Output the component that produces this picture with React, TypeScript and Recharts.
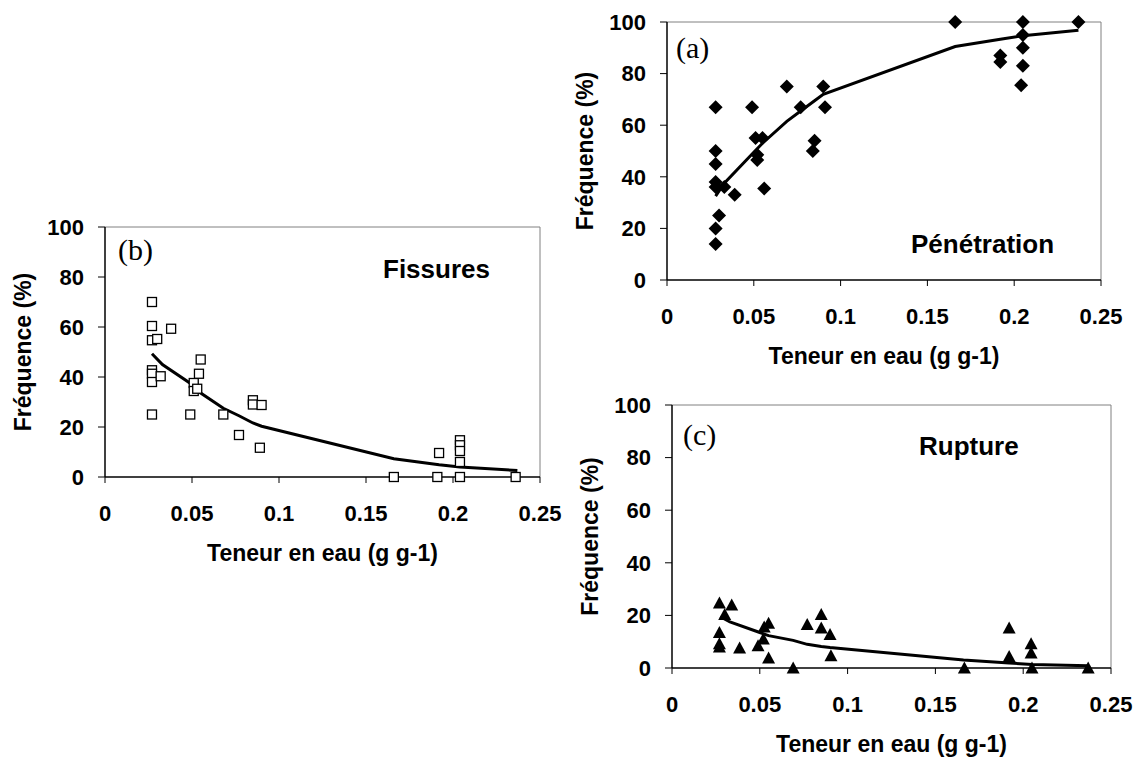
import React from "react";
import { ComposedChart, Scatter, Line, XAxis, YAxis, ReferenceLine } from "recharts";

type Pt = [number, number];

const xTicks = [0, 0.05, 0.1, 0.15, 0.2, 0.25];
const yTicks = [0, 20, 40, 60, 80, 100];
const xTitle = "Teneur en eau (g g-1)";
const yTitle = "Fréquence (%)";

// (a) Pénétration
const penetrationPts: Pt[] = [
  [0.028, 67], [0.028, 50], [0.028, 45], [0.028, 38], [0.028, 36], [0.033, 36],
  [0.039, 33], [0.030, 25], [0.028, 20], [0.028, 14], [0.049, 67], [0.051, 55],
  [0.055, 55], [0.052, 48.5], [0.052, 46.5], [0.056, 35.5], [0.069, 75], [0.077, 67],
  [0.085, 54], [0.084, 50], [0.09, 75], [0.091, 67], [0.166, 100], [0.192, 87],
  [0.192, 84.5], [0.205, 100], [0.205, 95], [0.205, 90], [0.205, 83], [0.204, 75.5],
  [0.237, 100],
];
const penetrationFit: Pt[] = [
  [0.028, 32.5], [0.033, 37.5], [0.05, 49.5], [0.055, 53], [0.069, 61.5], [0.077, 65.5],
  [0.085, 69.5], [0.09, 72], [0.166, 90.5], [0.192, 93.3], [0.205, 94.7], [0.237, 96.8],
];

// (b) Fissures
const fissuresPts: Pt[] = [
  [0.027, 70], [0.027, 60.4], [0.027, 54.7], [0.030, 55.2], [0.038, 59.3], [0.027, 42.7],
  [0.027, 41.3], [0.027, 38], [0.032, 40.3], [0.027, 25], [0.049, 25], [0.051, 37.6],
  [0.051, 34.4], [0.053, 35.3], [0.055, 47], [0.054, 41.3], [0.068, 25], [0.077, 16.8],
  [0.085, 30.7], [0.085, 29], [0.09, 28.8], [0.089, 11.7], [0.166, 0], [0.192, 9.6],
  [0.191, 0], [0.204, 14.7], [0.204, 12.7], [0.204, 10.4], [0.204, 6], [0.204, 0],
  [0.236, 0],
];
const fissuresFit: Pt[] = [
  [0.027, 49.3], [0.033, 45], [0.05, 37], [0.055, 33.6], [0.068, 27.5], [0.077, 24.5],
  [0.085, 21.6], [0.09, 20.3], [0.166, 7.3], [0.192, 4.9], [0.204, 4], [0.237, 2.6],
];

// (c) Rupture
const rupturePts: Pt[] = [
  [0.027, 24.7], [0.034, 24], [0.027, 13.5], [0.027, 9.2], [0.027, 8], [0.030, 20.3],
  [0.0385, 7.6], [0.049, 8.5], [0.052, 11], [0.0525, 15.6], [0.055, 17], [0.055, 3.8],
  [0.069, 0], [0.077, 16.5], [0.085, 20.3], [0.085, 15.2], [0.09, 12.7], [0.0905, 4.7],
  [0.1665, 0], [0.192, 15.2], [0.192, 4.4], [0.2045, 9.2], [0.2045, 5.7], [0.205, 0],
  [0.237, 0],
];
const ruptureFit: Pt[] = [
  [0.0275, 19.5], [0.033, 17.5], [0.05, 13.5], [0.055, 12.3], [0.069, 10.5], [0.077, 9],
  [0.085, 8.2], [0.09, 7.8], [0.166, 3], [0.192, 1.9], [0.205, 1.3], [0.237, 0.9],
];

const SANS = '"Liberation Sans", Arial, Helvetica, sans-serif';
const SERIF = '"Liberation Serif", "Times New Roman", serif';

const toRows = (pts: Pt[]) => pts.map(([x, y]) => ({ x, y }));

function Diamond(props: any) {
  const { cx, cy } = props;
  if (cx == null || cy == null) return <g />;
  return (
    <polygon
      points={`${cx},${cy - 7} ${cx + 7},${cy} ${cx},${cy + 7} ${cx - 7},${cy}`}
      fill="#000"
    />
  );
}

function Square(props: any) {
  const { cx, cy } = props;
  if (cx == null || cy == null) return <g />;
  return <rect x={cx - 4.5} y={cy - 4.5} width={9} height={9} fill="#fff" stroke="#000" strokeWidth={1.3} />;
}

function Triangle(props: any) {
  const { cx, cy } = props;
  if (cx == null || cy == null) return <g />;
  return (
    <polygon
      points={`${cx},${cy - 6.5} ${cx + 6.5},${cy + 5.5} ${cx - 6.5},${cy + 5.5}`}
      fill="#000"
    />
  );
}

const YW = 95;
const MT = 15;
const MR = 30;
const XH = 95;

type PanelProps = {
  plotLeft: number;
  plotTop: number;
  plotW: number;
  plotH: number;
  points: Pt[];
  fit: Pt[];
  shape: (p: any) => React.ReactElement;
};

function Panel({ plotLeft, plotTop, plotW, plotH, points, fit, shape }: PanelProps) {
  const tick = { fill: "#000", fontSize: 22, fontWeight: "bold", fontFamily: SANS };
  return (
    <div style={{ position: "absolute", left: plotLeft - YW, top: plotTop - MT }}>
      <ComposedChart
        width={YW + plotW + MR}
        height={MT + plotH + XH}
        margin={{ top: MT, right: MR, left: 0, bottom: 0 }}
      >
        <XAxis
          type="number"
          dataKey="x"
          domain={[0, 0.25]}
          ticks={xTicks}
          interval={0}
          height={XH}
          tickSize={6}
          tickMargin={22}
          axisLine={{ stroke: "#000", strokeWidth: 1.5 }}
          tickLine={{ stroke: "#000" }}
          tick={tick}
          label={{
            value: xTitle,
            position: "insideBottom",
            offset: 11,
            fill: "#000",
            fontSize: 23,
            fontWeight: "bold",
            fontFamily: SANS,
          }}
        />
        <YAxis
          type="number"
          dataKey="y"
          domain={[0, 100]}
          ticks={yTicks}
          interval={0}
          width={YW}
          tickSize={7}
          tickMargin={14}
          axisLine={{ stroke: "#000", strokeWidth: 1.5 }}
          tickLine={{ stroke: "#000" }}
          tick={tick}
          label={{
            value: yTitle,
            angle: -90,
            position: "insideLeft",
            offset: 13,
            style: { textAnchor: "middle" },
            fill: "#000",
            fontSize: 23,
            fontWeight: "bold",
            fontFamily: SANS,
          }}
        />
        <ReferenceLine y={100} stroke="#808080" strokeWidth={1} />
        <ReferenceLine x={0.25} stroke="#808080" strokeWidth={1} />
        <Line
          data={toRows(fit)}
          dataKey="y"
          type="linear"
          stroke="#000"
          strokeWidth={3}
          dot={false}
          activeDot={false}
          isAnimationActive={false}
        />
        <Scatter data={toRows(points)} dataKey="y" shape={shape} isAnimationActive={false} />
      </ComposedChart>
    </div>
  );
}

export default function App() {
  return (
    <div
      style={{
        position: "absolute",
        left: 0,
        top: 0,
        width: 1138,
        height: 758,
        background: "#fff",
        fontFamily: SANS,
      }}
    >
      <Panel plotLeft={667} plotTop={22} plotW={434} plotH={258} points={penetrationPts} fit={penetrationFit} shape={Diamond} />
      <Panel plotLeft={105} plotTop={227} plotW={435} plotH={250} points={fissuresPts} fit={fissuresFit} shape={Square} />
      <Panel plotLeft={672} plotTop={405} plotW={439} plotH={263} points={rupturePts} fit={ruptureFit} shape={Triangle} />
      <svg
        width={1138}
        height={758}
        style={{ position: "absolute", left: 0, top: 0, pointerEvents: "none" }}
      >
        <text x={676} y={58} fontFamily={SERIF} fontSize={30} fill="#000">(a)</text>
        <text x={118} y={260} fontFamily={SERIF} fontSize={30} fill="#000">(b)</text>
        <text x={683} y={445} fontFamily={SERIF} fontSize={30} fill="#000">(c)</text>
        <text x={911} y={253} fontFamily={SANS} fontSize={26} fontWeight="bold" fill="#000">Pénétration</text>
        <text x={383} y={278} fontFamily={SANS} fontSize={26} fontWeight="bold" fill="#000">Fissures</text>
        <text x={919} y={455} fontFamily={SANS} fontSize={26} fontWeight="bold" fill="#000">Rupture</text>
      </svg>
    </div>
  );
}
